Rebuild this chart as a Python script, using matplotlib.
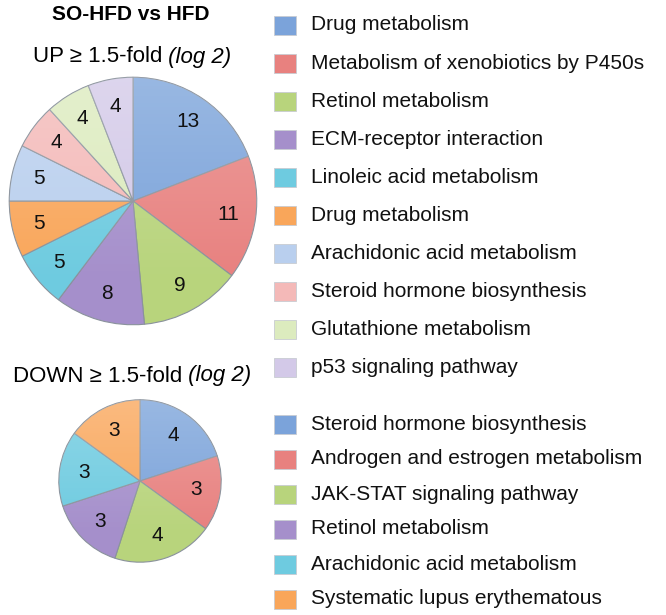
import numpy as np
import matplotlib
matplotlib.use("Agg")
import matplotlib.pyplot as plt
from matplotlib.patches import Rectangle, Circle

plt.rcParams['font.family'] = ['Liberation Sans', 'DejaVu Sans']

# data
up_labels = ["Drug metabolism", "Metabolism of xenobiotics by P450s",
             "Retinol metabolism", "ECM-receptor interaction",
             "Linoleic acid metabolism", "Drug metabolism",
             "Arachidonic acid metabolism", "Steroid hormone biosynthesis",
             "Glutathione metabolism", "p53 signaling pathway"]
up_counts = [13, 11, 9, 8, 5, 5, 5, 4, 4, 4]
up_colors = ["#7ba3da", "#e8817f", "#b8d47c", "#a58fcb", "#6ecbe0",
             "#f9a65a", "#b9cfee", "#f4b9b8", "#dcebbe", "#d3c9e8"]

down_labels = ["Steroid hormone biosynthesis", "Androgen and estrogen metabolism",
               "JAK-STAT signaling pathway", "Retinol metabolism",
               "Arachidonic acid metabolism", "Systematic lupus erythematous"]
down_counts = [4, 3, 4, 3, 3, 3]
down_colors = ["#7ba3da", "#e8817f", "#b8d47c", "#a58fcb", "#6ecbe0", "#f9a65a"]

W, H = 666, 615
fig = plt.figure(figsize=(W / 100, H / 100), dpi=100)


def pie_axes(cx, cy, r):
    return fig.add_axes([(cx - r) / W, (H - cy - r) / H, 2 * r / W, 2 * r / H])


def draw_pie(ax, counts, colors, labdist):
    wedges, texts = ax.pie(counts, colors=colors, startangle=90, counterclock=False,
                           labels=[str(c) for c in counts], labeldistance=labdist,
                           wedgeprops=dict(edgecolor="#8a929c", linewidth=0.8),
                           textprops=dict(fontsize=15, color="#111111"),
                           radius=0.99)
    for t in texts:
        t.set_ha("center")
        t.set_va("center")
        t.set_zorder(5)
    # soft highlight, lighter towards the top
    yy, xx = np.mgrid[1:-1:200j, -1:1:200j]
    shade = np.zeros((200, 200, 4))
    shade[..., :3] = 1.0
    shade[..., 3] = np.clip(0.28 * (yy + 1) / 2 - 0.05, 0, 1)
    im = ax.imshow(shade, extent=(-1, 1, -1, 1), zorder=3)
    im.set_clip_path(Circle((0, 0), 0.99, transform=ax.transData))
    ax.set_xlim(-1, 1)
    ax.set_ylim(-1, 1)
    ax.set_aspect("equal")
    ax.axis("off")


ax_up = pie_axes(133, 201, 125)
draw_pie(ax_up, up_counts, up_colors, 0.78)
ax_dn = pie_axes(140, 481, 82)
draw_pie(ax_dn, down_counts, down_colors, 0.70)

# overlay in pixel coordinates for titles and legends
ov = fig.add_axes([0, 0, 1, 1], zorder=10)
ov.set_xlim(0, W)
ov.set_ylim(H, 0)
ov.axis("off")

ov.text(131, 14, "SO-HFD vs HFD", fontsize=15, fontweight="bold", ha="center", va="center")
t1 = ov.text(33, 57, "UP \u2265 1.5-fold", fontsize=16, ha="left", va="center")
ov.annotate(" (log 2)", xy=(1, 0.5), xycoords=t1, fontsize=16, style="italic",
            ha="left", va="center")
t2 = ov.text(13, 376, "DOWN \u2265 1.5-fold", fontsize=16, ha="left", va="center")
ov.annotate(" (log 2)", xy=(1, 0.5), xycoords=t2, fontsize=16, style="italic",
            ha="left", va="center")


def draw_legend(labels, colors, y0, step):
    for i, (lab, col) in enumerate(zip(labels, colors)):
        y = y0 + i * step
        ov.add_patch(Rectangle((274, y - 9.5), 22, 19, facecolor=col,
                               edgecolor="#c8ccd2", linewidth=0.6))
        ov.text(311, y, lab, fontsize=15, ha="left", va="center", color="#111111")


draw_legend(up_labels, up_colors, 25, 38.1)
draw_legend(down_labels, down_colors, 424, 35)

fig.savefig("out.png", dpi=100)
